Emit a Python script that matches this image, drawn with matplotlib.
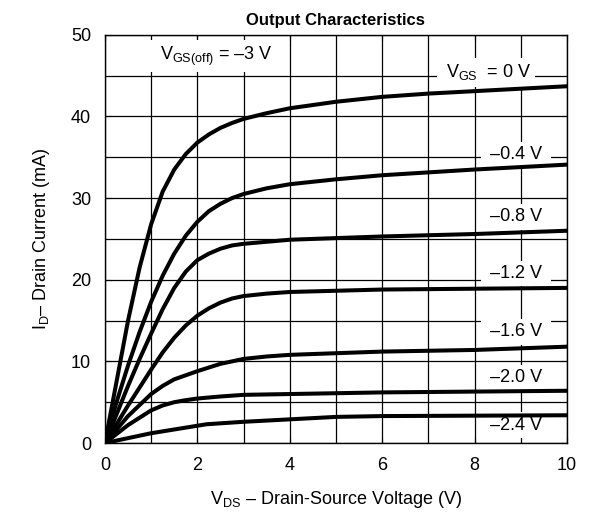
import numpy as np
import matplotlib
matplotlib.use("Agg")
import matplotlib.pyplot as plt
from matplotlib.ticker import MultipleLocator

plt.rcParams['font.family'] = ['Liberation Sans', 'DejaVu Sans']
plt.rcParams['mathtext.fontset'] = 'custom'
plt.rcParams['mathtext.rm'] = 'Liberation Sans'
plt.rcParams['mathtext.it'] = 'Liberation Sans'

# drain current curves (mA) vs V_DS (V)
vds_0 = [0, 0.25, 0.5, 0.75, 1, 1.25, 1.5, 1.75, 2, 2.25, 2.5, 2.75, 3, 3.5, 4, 5, 6, 7, 8, 9, 10]
id_0 = [0, 7.5, 15, 21.5, 26.8, 30.8, 33.5, 35.4, 36.8, 37.8, 38.6, 39.2, 39.7, 40.4, 41, 41.8, 42.4, 42.8, 43.1, 43.4, 43.7]

vds_04 = [0, 0.25, 0.5, 0.75, 1, 1.25, 1.5, 1.75, 2, 2.25, 2.5, 2.75, 3, 3.5, 4, 5, 6, 8, 10]
id_04 = [0, 5, 9.5, 13.6, 17.3, 20.5, 23.2, 25.4, 27.1, 28.4, 29.3, 30, 30.5, 31.2, 31.7, 32.3, 32.8, 33.5, 34.1]

vds_08 = [0, 0.25, 0.5, 0.75, 1, 1.25, 1.5, 1.75, 2, 2.25, 2.5, 2.75, 3, 4, 6, 8, 10]
id_08 = [0, 3.5, 7, 10.3, 13.4, 16.4, 19, 21, 22.4, 23.2, 23.8, 24.2, 24.4, 24.9, 25.3, 25.6, 26.0]

vds_12 = [0, 0.5, 1, 1.25, 1.5, 1.75, 2, 2.25, 2.5, 2.75, 3, 3.5, 4, 6, 8, 10]
id_12 = [0, 4.6, 9, 11.1, 12.9, 14.4, 15.6, 16.5, 17.2, 17.7, 18.0, 18.3, 18.5, 18.8, 18.9, 19.0]

vds_16 = [0, 0.5, 1, 1.25, 1.5, 1.75, 2, 2.5, 3, 3.5, 4, 5, 6, 8, 10]
id_16 = [0, 3.3, 6, 7, 7.8, 8.3, 8.8, 9.7, 10.3, 10.6, 10.8, 11.0, 11.2, 11.4, 11.8]

vds_20 = [0, 0.5, 1, 1.25, 1.5, 1.75, 2, 2.5, 3, 4, 5, 6, 8, 10]
id_20 = [0, 2.2, 4.0, 4.6, 5.0, 5.25, 5.45, 5.7, 5.9, 6.0, 6.1, 6.2, 6.3, 6.4]

vds_24 = [0, 1, 2.2, 3, 4, 5, 6, 8, 10]
id_24 = [0, 1.2, 2.3, 2.6, 2.9, 3.2, 3.3, 3.35, 3.4]

curves = [(vds_0, id_0), (vds_04, id_04), (vds_08, id_08), (vds_12, id_12),
          (vds_16, id_16), (vds_20, id_20), (vds_24, id_24)]

labels = [' V$_{\\mathrm{GS}}$  = 0 V ', ' –0.4 V ', ' –0.8 V ', ' –1.2 V ', ' –1.6 V ', ' –2.0 V ', ' –2.4 V ']
label_x = [8.25, 8.9, 8.9, 8.9, 8.9, 8.9, 8.9]
label_y = [45.4, 35.3, 27.7, 20.8, 13.6, 8.0, 2.2]

fig = plt.figure(figsize=(5.93, 5.22), dpi=100)
ax = fig.add_axes([0.177, 0.1513, 0.779, 0.782])

for x, y in curves:
    ax.plot(x, y, color='black', lw=2.9, solid_joinstyle='round', solid_capstyle='round', zorder=3)

ax.set_xlim(0, 10)
ax.set_ylim(0, 50)
ax.xaxis.set_major_locator(MultipleLocator(2))
ax.xaxis.set_minor_locator(MultipleLocator(1))
ax.yaxis.set_major_locator(MultipleLocator(10))
ax.yaxis.set_minor_locator(MultipleLocator(5))
ax.grid(True, which='both', color='black', lw=0.9, zorder=1)
ax.set_axisbelow(True)
ax.tick_params(which='both', direction='in', top=True, right=True, labelsize=13, pad=10)
ax.tick_params(which='major', length=4)
ax.tick_params(which='minor', length=4)
for s in ax.spines.values():
    s.set_linewidth(1.0)

for t, x, y in zip(labels, label_x, label_y):
    ax.text(x, y, t, fontsize=13, ha='center', va='center', zorder=2,
            bbox=dict(facecolor='white', edgecolor='none', pad=3))

ax.text(2.35, 47.4, ' V$_{\\mathrm{GS(off)}}$ = –3 V ', fontsize=13, ha='center', va='center', zorder=2,
        bbox=dict(facecolor='white', edgecolor='none', pad=3))

ax.set_title('Output Characteristics', fontsize=12, fontweight='bold', pad=7)
ax.set_xlabel('V$_{\\mathrm{DS}}$ – Drain-Source Voltage (V)', fontsize=13, labelpad=11)
ax.set_ylabel('I$_{\\mathrm{D}}$– Drain Current (mA)', fontsize=13, labelpad=14)

fig.savefig('out.png', dpi=100)
